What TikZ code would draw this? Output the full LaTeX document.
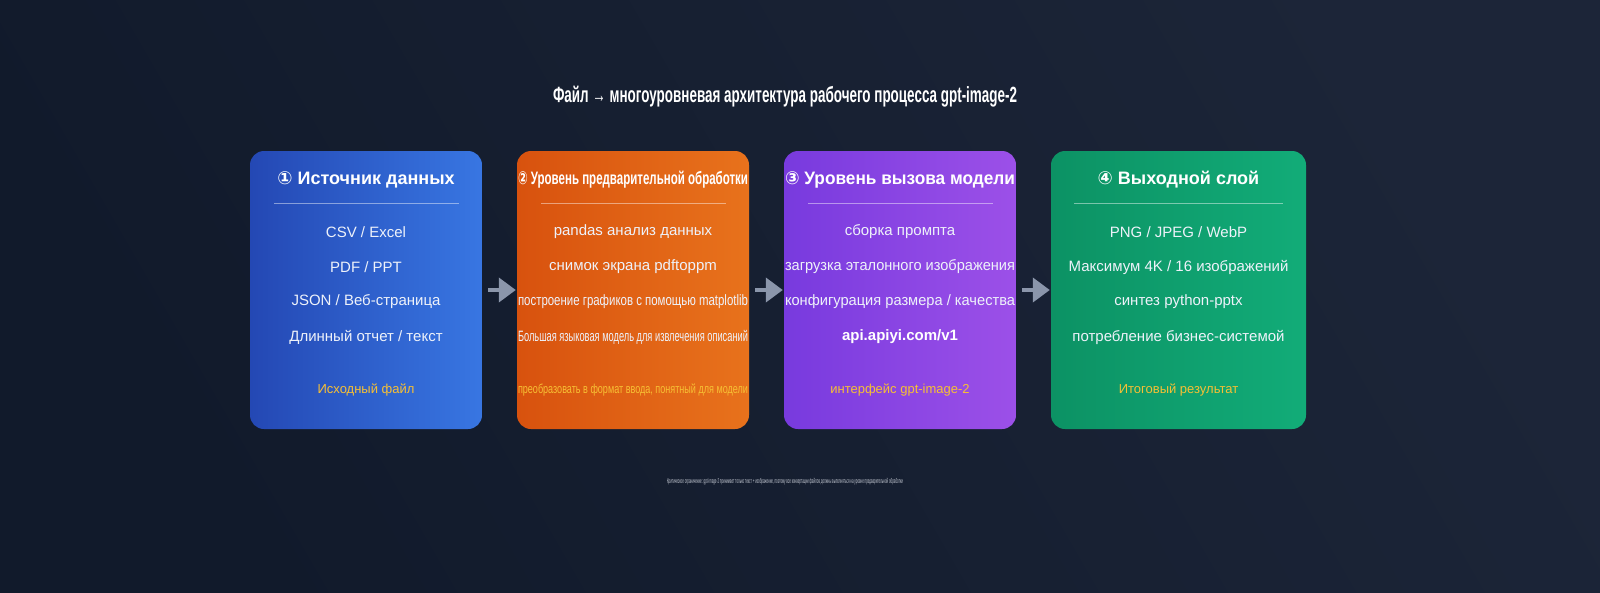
\documentclass[tikz,border=0pt]{standalone}
\usepackage{fontspec}
\setmainfont{Liberation Sans}
\newfontfamily\djv{DejaVu Sans}
\usetikzlibrary{arrows.meta}
\definecolor{bgA}{HTML}{111A2B}
\definecolor{bgB}{HTML}{1C2538}
\definecolor{foot}{HTML}{F7C034}
\definecolor{txt}{HTML}{EEF2FA}
\definecolor{arr}{HTML}{8B96AB}
\newcommand{\fw}[2]{\resizebox{#1pt}{\height}{#2}}
\tikzset{
  box/.style={rounded corners=14pt, shading angle=120},
  hd/.style={font=\fontsize{18}{20}\selectfont\bfseries, text=white},
  it/.style={font=\fontsize{15}{17}\selectfont, text=txt},
  ft/.style={font=\fontsize{13}{15}\selectfont, text=foot},
  sep/.style={draw=white, opacity=0.45, line width=1pt},
  conn/.style={draw=arr, line width=4pt, -{Triangle[length=17pt,width=24pt]}},
}
\begin{document}
\begin{tikzpicture}[x=1pt,y=-1pt]
\shade[left color=bgA, right color=bgB, shading angle=120] (0,0) rectangle (1600,592);
\useasboundingbox (0,0) rectangle (1600,592);
\node[font=\fontsize{22}{24}\selectfont\bfseries, text=white] (title) at (785,97) {\fw{464}{Файл → многоуровневая архитектура рабочего процесса gpt-image-2}};
% boxes
\shade[box, left color={rgb,255:red,36;green,72;blue,180}, right color={rgb,255:red,56;green,118;blue,226}] (250,151) rectangle (482,429);
\shade[box, left color={rgb,255:red,216;green,82;blue,14}, right color={rgb,255:red,232;green,114;blue,28}] (517,151) rectangle (749,429);
\shade[box, left color={rgb,255:red,120;green,58;blue,222}, right color={rgb,255:red,156;green,80;blue,232}] (784,151) rectangle (1016,429);
\shade[box, left color={rgb,255:red,12;green,146;blue,100}, right color={rgb,255:red,18;green,172;blue,120}] (1051,151) rectangle (1306,429);
\node (n1) at (366,290) [minimum width=232pt, minimum height=278pt] {};
\node (n2) at (633,290) [minimum width=232pt, minimum height=278pt] {};
\node (n3) at (900,290) [minimum width=232pt, minimum height=278pt] {};
\node (n4) at (1178.5,290) [minimum width=255pt, minimum height=278pt] {};
% box 1
\node[hd] (h1) at (366,180) {{\djv ①} Источник данных};
\draw[sep] (274,203) -- (459,203);
\node[it] (i11) at (366,232) {CSV / Excel};
\node[it] (i12) at (366,267) {PDF / PPT};
\node[it] (i13) at (366,302) {JSON / Веб-страница};
\node[it] (i14) at (366,337) {Длинный отчет / текст};
\node[ft] (f1) at (366,390) {Исходный файл};
% box 2
\node[hd] (h2) at (633,180) {\fw{230}{{\djv ②} Уровень предварительной обработки}};
\draw[sep] (541,203) -- (726,203);
\node[it] (i21) at (633,232) {pandas анализ данных};
\node[it] (i22) at (633,267) {снимок экрана pdftoppm};
\node[it] (i23) at (633,302) {\fw{230}{построение графиков с помощью matplotlib}};
\node[it] (i24) at (633,337) {\fw{230}{Большая языковая модель для извлечения описаний}};
\node[ft] (f2) at (633,390) {\fw{230}{преобразовать в формат ввода, понятный для модели}};
% box 3
\node[hd] (h3) at (900,180) {\fw{230}{{\djv ③} Уровень вызова модели}};
\draw[sep] (808,203) -- (993,203);
\node[it] (i31) at (900,232) {сборка промпта};
\node[it] (i32) at (900,267) {\fw{230}{загрузка эталонного изображения}};
\node[it] (i33) at (900,302) {\fw{230}{конфигурация размера / качества}};
\node[it, font=\fontsize{15}{17}\selectfont\bfseries, text=white] (i34) at (900,337) {api.apiyi.com/v1};
\node[ft] (f3) at (900,390) {интерфейс gpt-image-2};
% box 4
\node[hd] (h4) at (1178.5,180) {{\djv ④} Выходной слой};
\draw[sep] (1074,203) -- (1283,203);
\node[it] (i41) at (1178.5,232) {PNG / JPEG / WebP};
\node[it] (i42) at (1178.5,267) {Максимум 4K / 16 изображений};
\node[it] (i43) at (1178.5,302) {синтез python-pptx};
\node[it] (i44) at (1178.5,337) {потребление бизнес-системой};
\node[ft] (f4) at (1178.5,390) {Итоговый результат};
% arrows
\draw[conn] ([xshift=6pt]n1.east |- 0,290) -- ([xshift=-1pt]n2.west |- 0,290);
\draw[conn] ([xshift=6pt]n2.east |- 0,290) -- ([xshift=-1pt]n3.west |- 0,290);
\draw[conn] ([xshift=6pt]n3.east |- 0,290) -- ([xshift=-1pt]n4.west |- 0,290);
% footnote
\node[font=\fontsize{7}{8}\selectfont, text=txt, opacity=0.8] (note) at (785,482) {\fw{236}{Критическое ограничение: gpt-image-2 принимает только текст + изображение, поэтому все конвертации файлов должны выполняться на уровне предварительной обработки}};
\end{tikzpicture}
\end{document}
